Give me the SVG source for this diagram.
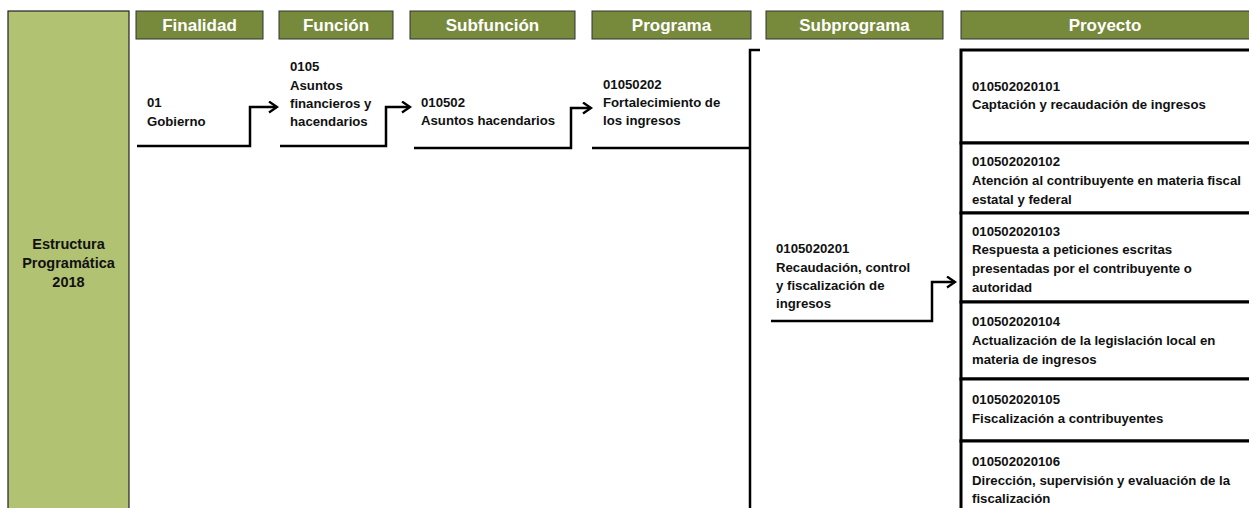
<svg xmlns="http://www.w3.org/2000/svg" width="1249" height="508" viewBox="0 0 1249 508">
<defs>
<style>
.hdr{fill:#77893b;stroke:#333;stroke-width:1}
.ht{font-family:"Liberation Sans",Arial,sans-serif;font-weight:bold;font-size:17px;fill:#fff;text-anchor:middle}
.t{font-family:"Liberation Sans",Arial,sans-serif;font-weight:bold;font-size:13.2px;fill:#111}
.lt{font-family:"Liberation Sans",Arial,sans-serif;font-weight:bold;font-size:14.5px;fill:#111;text-anchor:middle}
.ln{fill:none;stroke:#000;stroke-width:2.5}
.bx{fill:#fff;stroke:#000;stroke-width:3}
</style>
<marker id="ah" markerUnits="userSpaceOnUse" markerWidth="14" markerHeight="14" refX="10" refY="6" orient="auto">
<path d="M2,0.5 L10,6 L2,11.5" fill="none" stroke="#000" stroke-width="2.3"/>
</marker>
</defs>
<rect width="1249" height="508" fill="#fff"/>
<g id="estructura">
<rect x="8" y="11" width="121" height="500" fill="#b1c273" stroke="#222" stroke-width="1.2"/>
<text class="lt"><tspan x="68.5" y="249">Estructura</tspan><tspan x="68.5" y="268">Programática</tspan><tspan x="68.5" y="287">2018</tspan></text>
</g>
<g id="headers">
<g id="h-finalidad"><rect class="hdr" x="136" y="11" width="127" height="28"/><text class="ht" x="199.5" y="31">Finalidad</text></g>
<g id="h-funcion"><rect class="hdr" x="279" y="11" width="114" height="28"/><text class="ht" x="336" y="31">Función</text></g>
<g id="h-subfuncion"><rect class="hdr" x="410" y="11" width="165" height="28"/><text class="ht" x="492.5" y="31">Subfunción</text></g>
<g id="h-programa"><rect class="hdr" x="592" y="11" width="159" height="28"/><text class="ht" x="671.5" y="31">Programa</text></g>
<g id="h-subprograma"><rect class="hdr" x="766" y="11" width="177" height="28"/><text class="ht" x="854.5" y="31">Subprograma</text></g>
<g id="h-proyecto"><rect class="hdr" x="961" y="11" width="300" height="28"/><text class="ht" x="1105" y="31">Proyecto</text></g>
</g>
<g id="n-finalidad"><text class="t"><tspan x="147" y="106.5">01</tspan><tspan x="147" y="125.5">Gobierno</tspan></text></g>
<g id="n-funcion"><text class="t"><tspan x="290" y="70.5">0105</tspan><tspan x="290" y="89.5">Asuntos</tspan><tspan x="290" y="107.5">financieros y</tspan><tspan x="290" y="125.5">hacendarios</tspan></text></g>
<g id="n-subfuncion"><text class="t"><tspan x="421" y="106.5">010502</tspan><tspan x="421" y="124.5">Asuntos hacendarios</tspan></text></g>
<g id="n-programa"><text class="t"><tspan x="603" y="88.5">01050202</tspan><tspan x="603" y="106.5">Fortalecimiento de</tspan><tspan x="603" y="124.5">los ingresos</tspan></text></g>
<g id="n-subprograma"><text class="t"><tspan x="776" y="253">0105020201</tspan><tspan x="776" y="271.5">Recaudación, control</tspan><tspan x="776" y="290">y fiscalización de</tspan><tspan x="776" y="308">ingresos</tspan></text></g>
<g id="n-proyectos">
<g id="p1"><rect class="bx" x="961" y="50" width="300" height="93"/><text class="t"><tspan x="972" y="90.5">010502020101</tspan><tspan x="972" y="108.5">Captación y recaudación de ingresos</tspan></text></g>
<g id="p2"><rect class="bx" x="961" y="143" width="300" height="70"/><text class="t"><tspan x="972" y="166">010502020102</tspan><tspan x="972" y="185">Atención al contribuyente en materia fiscal</tspan><tspan x="972" y="204">estatal y federal</tspan></text></g>
<g id="p3"><rect class="bx" x="961" y="213" width="300" height="89"/><text class="t"><tspan x="972" y="235.5">010502020103</tspan><tspan x="972" y="254">Respuesta a peticiones escritas</tspan><tspan x="972" y="273">presentadas por el contribuyente o</tspan><tspan x="972" y="291.5">autoridad</tspan></text></g>
<g id="p4"><rect class="bx" x="961" y="302" width="300" height="77"/><text class="t"><tspan x="972" y="325.5">010502020104</tspan><tspan x="972" y="344.5">Actualización de la legislación local en</tspan><tspan x="972" y="363.5">materia de ingresos</tspan></text></g>
<g id="p5"><rect class="bx" x="961" y="379" width="300" height="62"/><text class="t"><tspan x="972" y="403.5">010502020105</tspan><tspan x="972" y="422.5">Fiscalización a contribuyentes</tspan></text></g>
<g id="p6"><rect class="bx" x="961" y="441" width="300" height="80"/><text class="t"><tspan x="972" y="465.5">010502020106</tspan><tspan x="972" y="484.5">Dirección, supervisión y evaluación de la</tspan><tspan x="972" y="503">fiscalización</tspan></text></g>
</g>
<g id="connectors">
<path class="ln" d="M137,146 H250 V107 H277" marker-end="url(#ah)"/>
<path class="ln" d="M280,146 H386 V107 H410" marker-end="url(#ah)"/>
<path class="ln" d="M414,148 H571 V108 H591" marker-end="url(#ah)"/>
<path class="ln" d="M592,148 H750"/>
<path class="ln" d="M760,50 H750 V510"/>
<path class="ln" d="M771,321 H932 V282 H955" marker-end="url(#ah)"/>
</g>
</svg>
